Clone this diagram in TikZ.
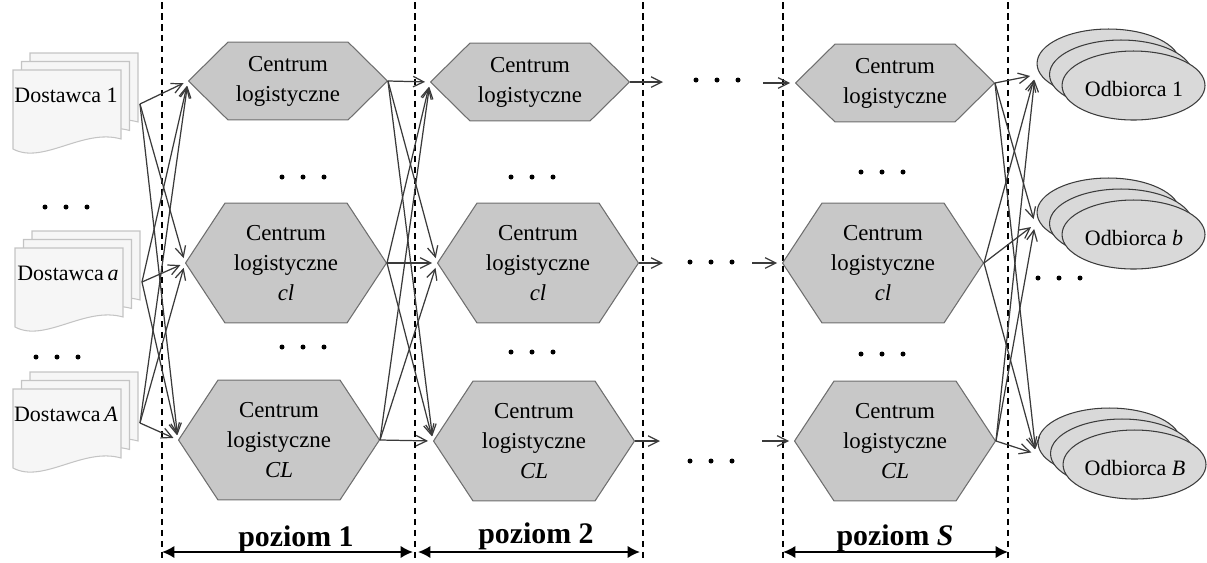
\documentclass[tikz,border=0pt]{standalone}
\usepackage{fontspec}
\setmainfont{Liberation Serif}
\usepackage{xcolor}
\definecolor{hexfill}{RGB}{200,200,200}
\definecolor{hexline}{RGB}{110,110,110}
\definecolor{recvfill}{RGB}{217,217,217}
\definecolor{recvline}{RGB}{60,60,60}
\definecolor{pagefill}{RGB}{246,246,246}
\definecolor{pageline}{RGB}{196,196,196}
\definecolor{linkgray}{RGB}{58,58,58}
\usepackage{tikz}
\usetikzlibrary{arrows.meta}

\begin{document}
\begin{tikzpicture}[x=0.02cm, y=-0.02cm,
    link/.style={draw=linkgray, line width=0.7pt,
        -{Straight Barb[length=6pt,width=6pt]}, shorten >=0.1cm},
    hexa/.style={rectangle, inner sep=0pt, outer sep=0pt, align=center,
        font=\fontsize{13}{17}\selectfont,
        path picture={
          \draw[draw=hexline, fill=hexfill, line width=0.6pt]
            ([xshift=0.3pt]path picture bounding box.west)
            -- ([xshift=0.8cm,yshift=-0.3pt]path picture bounding box.north west)
            -- ([xshift=-0.8cm,yshift=-0.3pt]path picture bounding box.north east)
            -- ([xshift=-0.3pt]path picture bounding box.east)
            -- ([xshift=-0.8cm,yshift=0.3pt]path picture bounding box.south east)
            -- ([xshift=0.8cm,yshift=0.3pt]path picture bounding box.south west)
            -- cycle;}},
    hexsmall/.style={hexa, minimum width=4cm, minimum height=1.58cm},
    hexbig/.style={hexa, minimum width=4.04cm, minimum height=2.42cm},
    docstack/.style={rectangle, inner sep=0pt, outer sep=0pt,
        minimum width=2.56cm, minimum height=2.08cm},
    page/.style={draw=pageline, fill=pagefill, line width=0.6pt},
    recvstack/.style={rectangle, inner sep=0pt, outer sep=0pt,
        minimum width=3.44cm, minimum height=1.92cm},
    disc/.style={draw=recvline, fill=recvfill, line width=0.6pt},
    stacktext/.style={font=\fontsize{12.5}{15}\selectfont, inner sep=0pt},
    levelarrow/.style={line width=1.1pt,
        {Latex[length=7pt,width=7pt]}-{Latex[length=7pt,width=7pt]}},
    leveltext/.style={font=\fontsize{17}{20}\selectfont\bfseries, anchor=base}]

\useasboundingbox (0,0) rectangle (1207,562);

% Level boundaries
\foreach \x in {162,415,643,783,1008}
  \draw[line width=0.6pt, dash pattern=on 0.13cm off 0.09cm] (\x,2) -- (\x,560);

% Suppliers: three stacked pages each
\foreach \n/\x/\y/\t in {d1/76/104/{Dostawca 1},
                         da/78/282/{Dostawca\,\textit{a}},
                         dA/76/423/{Dostawca\,\textit{A}}} {
  \node[docstack] (\n) at (\x,\y) {};
  \begin{scope}[shift={(\n.north west)}, shift={(1,1)}]
    \foreach \p in {17,8.5,0}
      \draw[page] (\p,17-\p) -- (\p+108,17-\p) -- (\p+108,86-\p)
        .. controls (\p+70,75-\p) and (\p+30,112-\p) .. (\p,96-\p) -- cycle;
  \end{scope}
  \node[stacktext] (\n text) at ([shift={(-10,-9)}]\n.center) {\t};
}

% Level 1
\node[hexsmall] (c1t) at (288,81) {Centrum\\logistyczne};
\node[hexbig] (c1m) at (286,263) {Centrum\\logistyczne\\\textit{cl}};
\node[hexbig] (c1b) at (279,440) {Centrum\\logistyczne\\\textit{CL}};

% Level 2
\node[hexsmall] (c2t) at (530,82) {Centrum\\logistyczne};
\node[hexbig] (c2m) at (538,263) {Centrum\\logistyczne\\\textit{cl}};
\node[hexbig] (c2b) at (534,441) {Centrum\\logistyczne\\\textit{CL}};

% Level S
\node[hexsmall] (cSt) at (895,83) {Centrum\\logistyczne};
\node[hexbig] (cSm) at (883,263) {Centrum\\logistyczne\\\textit{cl}};
\node[hexbig] (cSb) at (895,441) {Centrum\\logistyczne\\\textit{CL}};

% Receivers: three stacked discs each
\foreach \n/\x/\y/\t in {r1/1121/75/{Odbiorca 1},
                         rb/1121/224/{Odbiorca \textit{b}},
                         rB/1122/454/{Odbiorca \textit{B}}} {
  \node[recvstack] (\n) at (\x,\y) {};
  \begin{scope}[shift={(\n.north west)}]
    \foreach \ex/\ey in {73.5/36.5, 86/47.5, 98.5/58.5}
      \draw[disc] (\ex,\ey) ellipse [x radius=1.43cm, y radius=0.69cm];
  \end{scope}
  \node[stacktext] (\n text) at ([shift={(13,14)}]\n.center) {\t};
}

% Free ends of the flows between level 2 and level S
\coordinate (o2t) at (668,82);
\coordinate (o2m) at (668,263);
\coordinate (o2b) at (665,441);
\coordinate (iSt) at (763,83);
\coordinate (iSm) at (752,263);
\coordinate (iSb) at (762,441);

% Flows
\foreach \s in {d1,da,dA}
  \foreach \c in {c1t,c1m,c1b}
    \draw[link] (\s.east) -- (\c.west);
\foreach \a in {c1t,c1m,c1b}
  \foreach \b in {c2t,c2m,c2b}
    \draw[link] (\a.east) -- (\b.west);
\foreach \r in {t,m,b} {
  \draw[link] (c2\r.east) -- (o2\r);
  \draw[link] (iS\r) -- (cS\r.west);
}
\foreach \a in {cSt,cSm,cSb}
  \foreach \b in {r1,rb,rB}
    \draw[link] (\a.east) -- (\b.west);

% Omitted elements
\foreach \cx/\cy in {66/207, 57/357, 303/177, 303/347, 532/177, 532/352,
                     882/172, 882/354, 717/80, 711/262, 711/461, 1059/278}
  \foreach \dx in {-21,0,21}
    \fill (\cx+\dx,\cy) circle (0.05cm);

% Level ranges
\draw[levelarrow] (162,552) -- (413,552);
\draw[levelarrow] (418,552) -- (640,552);
\draw[levelarrow] (783,552) -- (1008,552);
\node[leveltext] (lev1) at (296,546) {poziom 1};
\node[leveltext] (lev2) at (536,543) {poziom 2};
\node[leveltext] (levS) at (895,545) {poziom \textit{S}};

\end{tikzpicture}
\end{document}
